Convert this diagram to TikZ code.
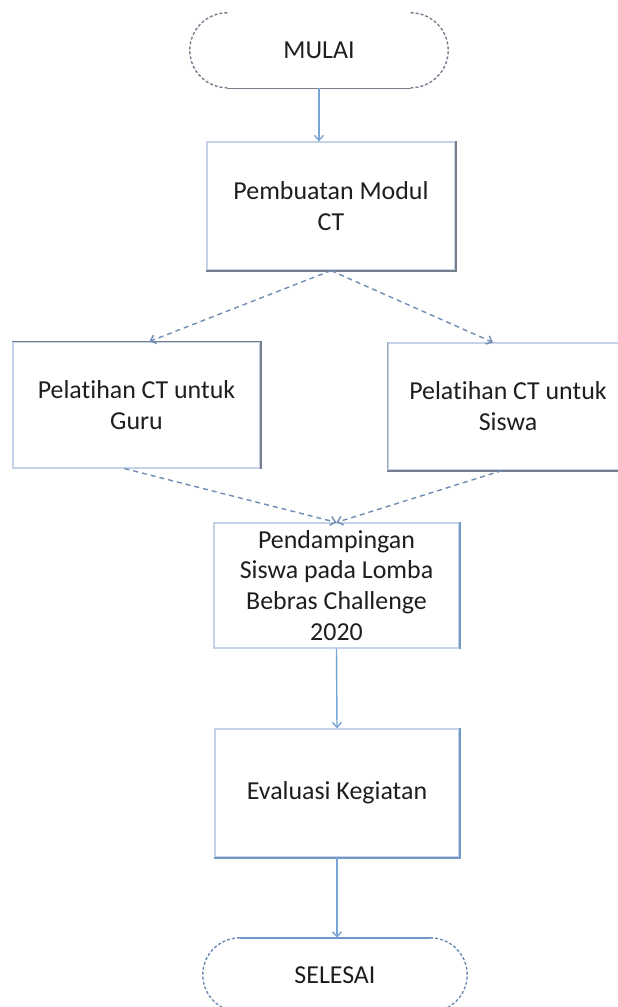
\documentclass[tikz,border=0pt]{standalone}
\usepackage{fontspec}
\setmainfont{Carlito}[Ligatures=NoCommon]
\usepackage{xcolor}
\usepackage{tikz}
\usetikzlibrary{arrows.meta,positioning,calc}
\definecolor{garistipis}{RGB}{196,211,232}
\definecolor{garisgelap}{RGB}{118,126,140}
\definecolor{garisbiru}{RGB}{112,152,198}
\definecolor{panahbiru}{RGB}{122,166,214}
\definecolor{putusbiru}{RGB}{112,140,180}
\definecolor{teksgelap}{RGB}{30,30,30}

\begin{document}
\begin{tikzpicture}[x=1bp,y=-1bp,font=\fontsize{26}{31}\selectfont,text=teksgelap,
  kotak/.style={draw=garistipis,line width=1.2bp,inner sep=0pt,align=center},
  terminal/.style={inner sep=0pt},
  ujung/.style={draw=putusbiru,line width=1.4bp,dash pattern=on 3bp off 2bp},
  tepi/.style={draw=garisgelap,line width=1.8bp},
  tepibiru/.style={draw=garisbiru,line width=1.8bp},
  panah/.style={draw=panahbiru,line width=1.4bp,-{Straight Barb[length=5bp,width=9bp]}},
  cabang/.style={panah,draw=putusbiru,dash pattern=on 5bp off 4bp}]
\useasboundingbox (0,0) rectangle (618,1007);
\clip (0,0) rectangle (618,1007);

% terminals
\node[terminal,minimum width=258bp,minimum height=75bp] (mulai) at (319,50.5) {MULAI};
\draw[ujung,draw=garisgelap] ([xshift=37.5bp]mulai.north west) arc[start angle=90,end angle=270,radius=37.5bp];
\draw[ujung,draw=garisgelap] ([xshift=-37.5bp]mulai.north east) arc[start angle=90,end angle=-90,radius=37.5bp];
\draw[tepi,line width=1.4bp] ([xshift=37.5bp]mulai.south west) -- ([xshift=-37.5bp]mulai.south east);

\node[terminal,minimum width=264bp,minimum height=74bp] (selesai) at (335,975) {SELESAI};
\draw[ujung] ([xshift=37bp]selesai.north west) arc[start angle=90,end angle=270,radius=37bp];
\draw[ujung] ([xshift=-37bp]selesai.north east) arc[start angle=90,end angle=-90,radius=37bp];
\draw[tepibiru,line width=1.4bp] ([xshift=37bp]selesai.north west) -- ([xshift=-37bp]selesai.north east);

% process boxes
\node[kotak,minimum width=248bp,minimum height=128bp] (modul) at (331,206) {Pembuatan Modul\\CT};
\node[kotak,minimum width=247bp,minimum height=126bp] (guru) at (136.5,405) {Pelatihan CT untuk\\Guru};
\node[kotak,minimum width=240bp,minimum height=127bp] (siswa) at (508,406.5) {Pelatihan CT untuk\\Siswa};
\node[kotak,minimum width=245bp,minimum height=125bp] (dampingan) at (336.5,585.5) {Pendampingan\\Siswa pada Lomba\\Bebras Challenge\\2020};
\node[kotak,minimum width=244bp,minimum height=128bp] (evaluasi) at (337,793) {Evaluasi Kegiatan};

% darker edges
\draw[tepi] (modul.north east) -- (modul.south east) -- (modul.south west);
\draw[tepi] (guru.north west) -- (guru.north east) -- (guru.south east);
\draw[tepi] (siswa.south west) -- (siswa.south east);
\draw[tepibiru,draw=garisgelap!70] (siswa.north west) -- (siswa.south west);
\draw[tepibiru] (dampingan.north east) -- (dampingan.south east);
\draw[tepibiru] (evaluasi.north east) -- (evaluasi.south east) -- (evaluasi.south west);

% connectors
\draw[panah] (mulai.south) -- (mulai.south |- modul.north);
\draw[cabang] (modul.south) -- ([xshift=13bp]guru.north);
\draw[cabang] (modul.south) -- ([xshift=-15bp]siswa.north);
\draw[cabang] ([xshift=-12bp]guru.south) -- (dampingan.north);
\draw[cabang] ([xshift=-6bp]siswa.south) -- (dampingan.north);
\draw[panah] (dampingan.south) -- (evaluasi.north);
\draw[panah] (evaluasi.south) -- (evaluasi.south |- selesai.north);
\end{tikzpicture}
\end{document}
